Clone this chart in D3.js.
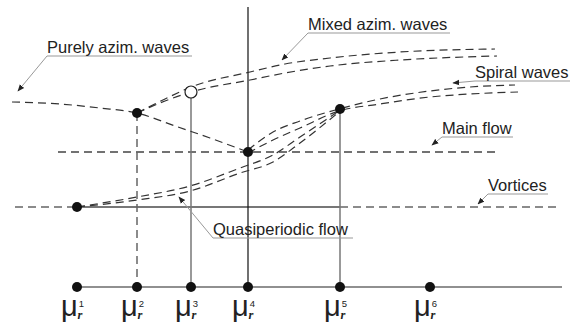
<!DOCTYPE html>
<html>
<head>
<meta charset="utf-8">
<script src="https://cdn.jsdelivr.net/npm/d3@7"></script>
<style>
  body { margin: 0; background: #fff; }
  svg { display: block; }
</style>
</head>
<body>
<svg id="chart"></svg>
<script>
const width = 570;
const height = 329;

// control parameter mu_r (abscissa) and amplitude (ordinate), arbitrary units
const muPoints = [7.7, 13.7, 19.1, 24.8, 34.0, 43.0];
const muLabels = ['1', '2', '3', '4', '5', '6'];

const mainFlowLevel = 13.5;
const vorticesLevel = 8.0;

const purelyAzim = [[1.2, 18.5], [6, 18.3], [10, 17.9], [13.7, 17.4], [17.5, 16.1], [21, 14.9], [24.8, 13.5]];
const mixedUpper = [[13.7, 17.4], [16.5, 18.8], [19.1, 20.0], [25, 21.5], [28.5, 22.3], [33, 22.9], [40, 23.5], [49.5, 23.8]];
const mixedLower = [[13.7, 17.4], [16.5, 18.6], [19.1, 19.5], [25, 20.7], [28.5, 21.4], [33, 22.1], [40, 22.7], [49.7, 23.1]];
const spiralUpper = [[24.8, 13.7], [27.3, 15.5], [30, 16.6], [33.9, 17.8], [38, 18.8], [43, 19.6], [47, 20.0], [51.5, 20.2]];
const spiralLower = [[24.8, 13.4], [27.3, 14.7], [30, 15.9], [33.9, 17.6], [38, 18.3], [43, 19.0], [47, 19.3], [51.8, 19.5]];
const quasiUpper = [[7.7, 8.0], [13.7, 9.0], [19, 10.1], [24, 11.9], [27.3, 13.2], [30, 15.0], [33.9, 17.6]];
const quasiLower = [[7.7, 8.0], [13.7, 8.7], [19, 9.6], [24, 11.4], [27.3, 12.5], [30, 14.4], [33.9, 17.5]];

// bifurcation points [mu, amplitude]
const stablePoints = [[7.7, 8.0], [13.7, 17.4], [24.8, 13.5], [34.0, 17.8]];
const openPoint = [19.1, 19.5];

// annotations: text, text start, underline end, arrow tip (data units)
const annotations = [
  { text: 'Purely azim. waves', x: 4.7, y: 23.4, x2: 19.2, tip: [1.8, 19.6] },
  { text: 'Mixed azim. waves', x: 30.8, y: 25.7, x2: 45.0, tip: [28.2, 22.7] },
  { text: 'Spiral waves', x: 47.5, y: 20.9, x2: 57.0, tip: [45.3, 20.4] },
  { text: 'Main flow', x: 44.2, y: 15.3, x2: 51.3, tip: [43.2, 14.2] },
  { text: 'Vortices', x: 48.8, y: 9.6, x2: 54.8, tip: [47.8, 8.3] },
  { text: 'Quasiperiodic flow', x: 21.3, y: 5.2, x2: 35.3, tip: [17.9, 9.0] }
];

const x = d3.scaleLinear().domain([0, 57]).range([0, width]);
const y = d3.scaleLinear().domain([0, 28.7]).range([287, 0]);

const svg = d3.select('#chart')
  .attr('width', width)
  .attr('height', height);

svg.append('rect')
  .attr('width', width)
  .attr('height', height)
  .attr('fill', '#fff');

svg.append('defs').append('marker')
  .attr('id', 'arrow')
  .attr('viewBox', '0 0 10 10')
  .attr('refX', 9)
  .attr('refY', 5)
  .attr('markerWidth', 7)
  .attr('markerHeight', 7)
  .attr('markerUnits', 'userSpaceOnUse')
  .attr('orient', 'auto')
  .append('path')
  .attr('d', 'M0,1L10,5L0,9Z')
  .attr('fill', '#222');

const line = d3.line()
  .x(d => x(d[0]))
  .y(d => y(d[1]))
  .curve(d3.curveMonotoneX);

const dash = '8,5';

// horizontal states
svg.append('line')
  .attr('x1', x(5.8)).attr('x2', x(49.7))
  .attr('y1', y(mainFlowLevel)).attr('y2', y(mainFlowLevel))
  .attr('stroke', '#444').attr('stroke-width', 1.3)
  .attr('stroke-dasharray', dash);

const vort = [
  [1.5, muPoints[0], true],
  [muPoints[0], muPoints[4], false],
  [muPoints[4], 56.0, true]
];
svg.append('g').selectAll('line')
  .data(vort)
  .enter().append('line')
  .attr('x1', d => x(d[0])).attr('x2', d => x(d[1]))
  .attr('y1', y(vorticesLevel)).attr('y2', y(vorticesLevel))
  .attr('stroke', d => d[2] ? '#666' : '#777')
  .attr('stroke-width', d => d[2] ? 1.4 : 2)
  .attr('stroke-dasharray', d => d[2] ? dash : null);

// vertical lines
svg.append('line')
  .attr('x1', x(muPoints[3])).attr('x2', x(muPoints[3]))
  .attr('y1', y(28.0)).attr('y2', y(0))
  .attr('stroke', '#111').attr('stroke-width', 1.2);
svg.append('line')
  .attr('x1', x(muPoints[1])).attr('x2', x(muPoints[1]))
  .attr('y1', y(17.4)).attr('y2', y(0))
  .attr('stroke', '#666').attr('stroke-width', 1.5)
  .attr('stroke-dasharray', dash);
svg.append('line')
  .attr('x1', x(muPoints[2])).attr('x2', x(muPoints[2]))
  .attr('y1', y(openPoint[1])).attr('y2', y(0))
  .attr('stroke', '#777').attr('stroke-width', 1.5);
svg.append('line')
  .attr('x1', x(muPoints[4])).attr('x2', x(muPoints[4]))
  .attr('y1', y(17.8)).attr('y2', y(0))
  .attr('stroke', '#777').attr('stroke-width', 1.5);

// branches
const branches = [purelyAzim, mixedUpper, mixedLower, spiralUpper, spiralLower, quasiUpper, quasiLower];
svg.append('g').selectAll('path')
  .data(branches)
  .enter().append('path')
  .attr('d', line)
  .attr('fill', 'none')
  .attr('stroke', '#333')
  .attr('stroke-width', 1.2)
  .attr('stroke-dasharray', dash);

// mu axis
svg.append('line')
  .attr('x1', x(muPoints[0])).attr('x2', x(56.2))
  .attr('y1', y(0)).attr('y2', y(0))
  .attr('stroke', '#222').attr('stroke-width', 1.2);

svg.append('g').selectAll('circle')
  .data(muPoints)
  .enter().append('circle')
  .attr('cx', d => x(d))
  .attr('cy', y(0))
  .attr('r', 5)
  .attr('fill', '#111');

// mu_r^i labels, one text element each
const lab = svg.append('g').selectAll('text')
  .data(muPoints)
  .enter().append('text')
  .attr('x', d => x(d) - 16)
  .attr('y', 316)
  .attr('fill', '#222')
  .attr('font-family', 'Liberation Sans, Arial, sans-serif');
lab.append('tspan')
  .attr('font-size', 29)
  .text('μ');
lab.append('tspan')
  .attr('font-size', 9.5)
  .attr('dx', 1)
  .attr('dy', -9.5)
  .text((d, i) => muLabels[i]);
lab.append('tspan')
  .attr('font-family', 'Liberation Serif, Times New Roman, serif')
  .attr('font-style', 'italic')
  .attr('font-weight', 'bold')
  .attr('font-size', 12.5)
  .attr('dx', -6.5)
  .attr('dy', 12.5)
  .text('r');

// bifurcation points
svg.append('g').selectAll('circle')
  .data(stablePoints)
  .enter().append('circle')
  .attr('cx', d => x(d[0]))
  .attr('cy', d => y(d[1]))
  .attr('r', 5)
  .attr('fill', '#111');

svg.append('circle')
  .attr('cx', x(openPoint[0]))
  .attr('cy', y(openPoint[1]))
  .attr('r', 6)
  .attr('fill', '#fff')
  .attr('stroke', '#222')
  .attr('stroke-width', 1.2);

// labels with leader lines
const ann = svg.append('g').selectAll('g')
  .data(annotations)
  .enter().append('g');
ann.append('path')
  .attr('d', d => `M${x(d.x2)},${y(d.y) + 3}L${x(d.x)},${y(d.y) + 3}L${x(d.tip[0])},${y(d.tip[1])}`)
  .attr('fill', 'none')
  .attr('stroke', '#999')
  .attr('stroke-width', 1)
  .attr('marker-end', 'url(#arrow)');
ann.append('text')
  .attr('x', d => x(d.x))
  .attr('y', d => y(d.y))
  .attr('font-family', 'Liberation Sans, Arial, sans-serif')
  .attr('font-size', 16.5)
  .attr('fill', '#222')
  .text(d => d.text);
</script>
</body>
</html>
